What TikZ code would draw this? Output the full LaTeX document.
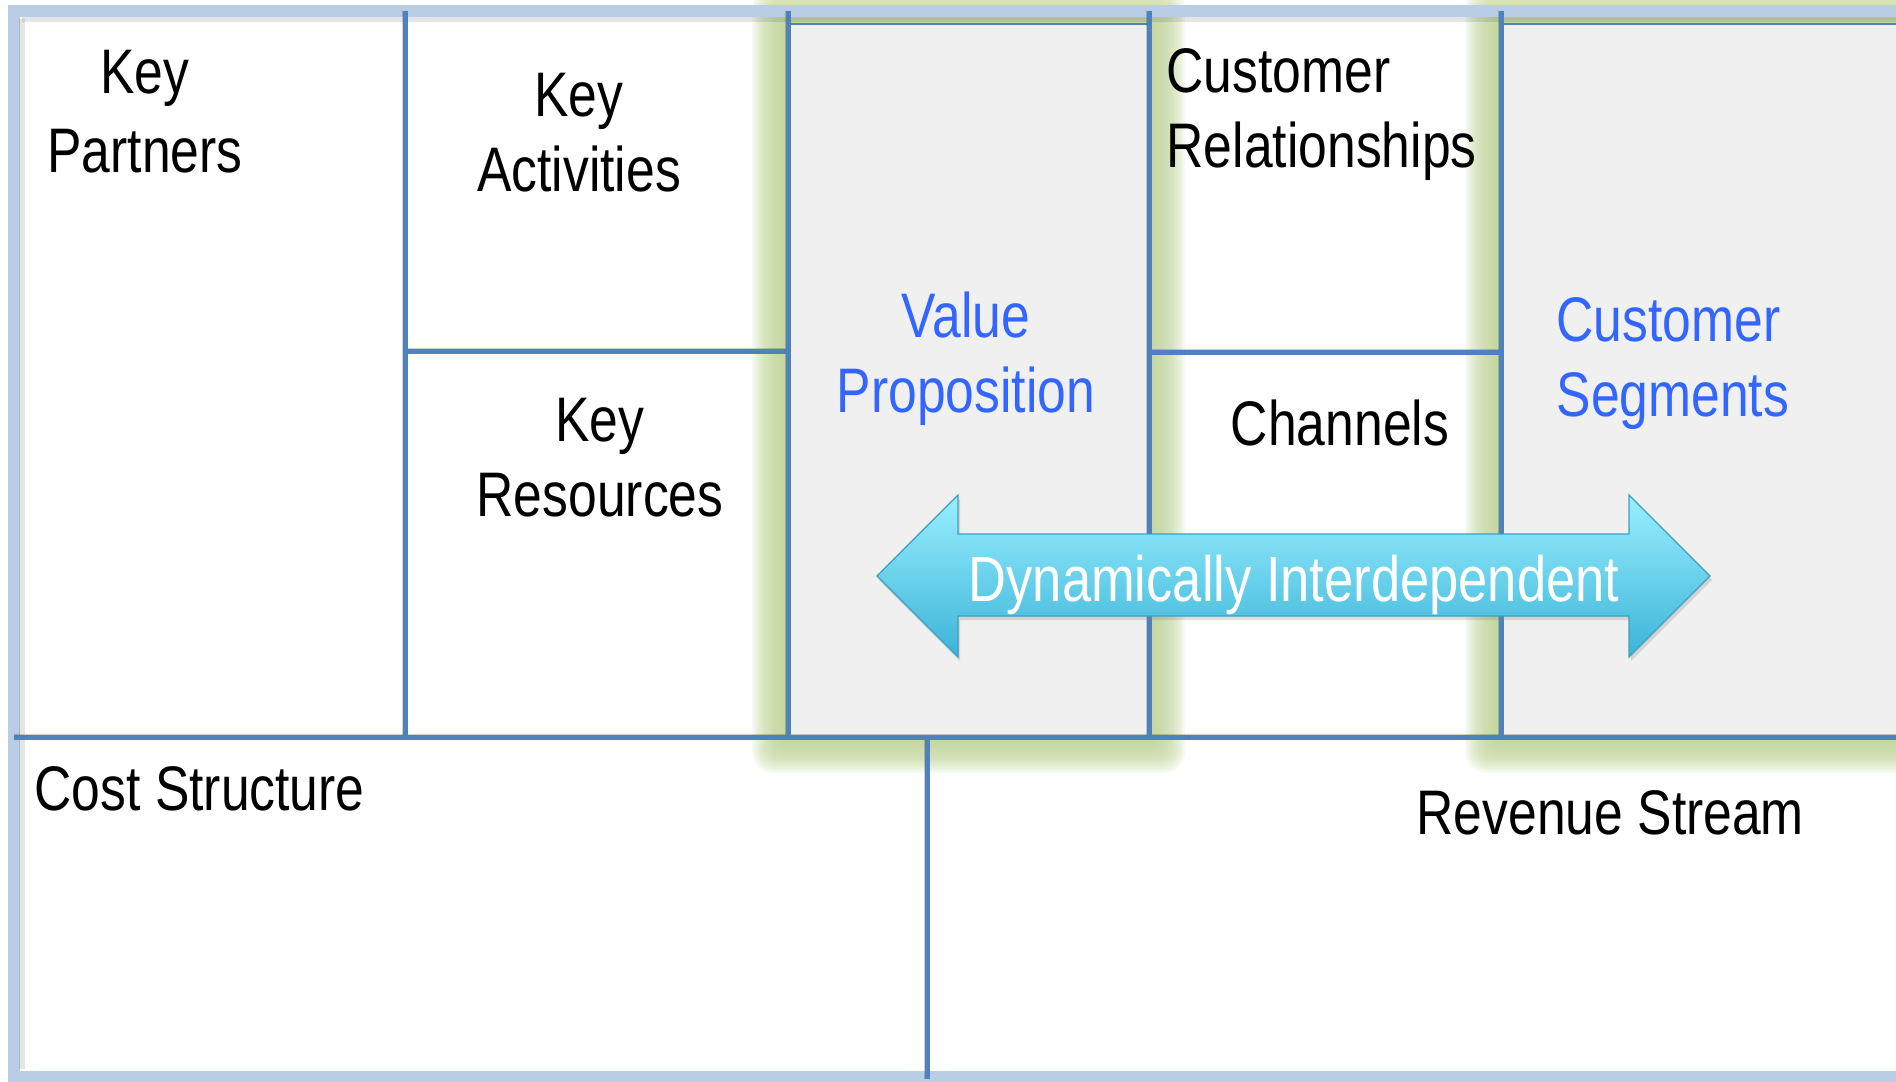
\documentclass[tikz,border=0pt]{standalone}
\usepackage{fontspec}
\setmainfont{Liberation Sans}[FakeStretch=0.82]
\usetikzlibrary{shadows}

\definecolor{gridblue}{HTML}{4F81BD}
\definecolor{frameblue}{HTML}{B9CDE5}
\definecolor{cellgrey}{HTML}{F0F0F0}
\definecolor{glowgreen}{HTML}{C3D69B}
\definecolor{labelblue}{HTML}{3366FF}
\definecolor{arrowtop}{HTML}{9AEFFF}
\definecolor{arrowbottom}{HTML}{3BB4D8}
\definecolor{arrowedge}{HTML}{3D9FC4}

\tikzset{
  gridline/.style={draw=gridblue, line width=0.05cm},
  gridshadow/.style={draw=black, draw opacity=0.18, line width=0.06cm},
  label/.style={inner sep=0pt, font=\fontsize{17.9}{21.3}\selectfont},
  centerlabel/.style={label, align=center, anchor=base},
  leftlabel/.style={label, align=left, anchor=base west},
  featured/.style={fill=cellgrey},
}

% soft green halo around a rectangle given by two corners
\newcommand{\halo}[4]{%
  \foreach \r in {36,34,...,2}{
    \fill[glowgreen, fill opacity=0.12, rounded corners=\r*0.006cm]
      (#1-\r,#2-\r) rectangle (#3+\r,#4+\r);
  }%
}

\begin{document}
\begin{tikzpicture}[x=0.01cm, y=-0.01cm]
  \useasboundingbox (0,0) rectangle (1896,1081);
  \clip (0,0) rectangle (1896,1081);
  \fill[white] (0,0) rectangle (1896,1081);

  % halos of the two featured blocks
  \halo{788}{24}{1149}{737}
  \halo{1501}{24}{1960}{737}

  % outer frame
  \draw[frameblue, line width=0.12cm] (14,10.5) rectangle (1940,1077);
  \draw[black, draw opacity=0.10, line width=0.05cm] (22,19) -- (1896,19);
  \draw[black, draw opacity=0.10, line width=0.05cm] (22,19) -- (22,1069);

  % featured blocks
  \draw[featured, draw=gridblue, line width=0.02cm] (788,24) rectangle (1149,737);
  \draw[featured, draw=gridblue, line width=0.02cm] (1501,24) rectangle (1960,737);

  % grid coordinates
  \coordinate (a1) at (405,11);   \coordinate (a2) at (405,737);
  \coordinate (b1) at (788,11);   \coordinate (b2) at (788,737);
  \coordinate (c1) at (1149,11);  \coordinate (c2) at (1149,737);
  \coordinate (d1) at (1501,11);  \coordinate (d2) at (1501,737);
  \coordinate (m1) at (14,737);   \coordinate (m2) at (1896,737);
  \coordinate (k1) at (405,351);  \coordinate (k2) at (788,351);
  \coordinate (r1) at (1149,352); \coordinate (r2) at (1501,352);
  \coordinate (s1) at (927,737);  \coordinate (s2) at (927,1079);

  % faint shadows of the grid lines
  \begin{scope}[shift={(2,4)}]
    \foreach \p/\q in {a1/a2,b1/b2,c1/c2,d1/d2,m1/m2,k1/k2,r1/r2,s1/s2}
      \draw[gridshadow] (\p) -- (\q);
  \end{scope}

  % grid lines
  \foreach \p/\q in {a1/a2,b1/b2,c1/c2,d1/d2,m1/m2,k1/k2,r1/r2,s1/s2}
    \draw[gridline] (\p) -- (\q);

  % double-headed arrow across the right half
  \path[drop shadow={shadow xshift=0.02cm, shadow yshift=-0.04cm, opacity=0.25},
        top color=arrowtop, bottom color=arrowbottom, draw=arrowedge, line width=0.012cm]
    (877,576) -- (958,495) -- (958,534) -- (1629,534) -- (1629,495)
    -- (1710,576) -- (1629,657) -- (1629,616) -- (958,616) -- (958,657) -- cycle;

  % block titles (two-line titles sit on the baseline of their last line)
  \node[centerlabel, font=\fontsize{17.9}{22.4}\selectfont] (partners) at (145,172) {Key\\Partners};
  \node[centerlabel] (activities) at (579,191) {Key\\Activities};
  \node[centerlabel] (resources) at (600,516)  {Key\\Resources};
  \node[centerlabel, text=labelblue] (value) at (966,412) {Value\\Proposition};
  \node[leftlabel] (relations) at (1166,167)   {Customer\\Relationships};
  \node[centerlabel] (channels) at (1340,445)  {Channels};
  \node[leftlabel, text=labelblue] (segments) at (1556,416) {Customer\\Segments};
  \node[leftlabel] (cost) at (34,810)          {Cost Structure};
  \node[leftlabel] (revenue) at (1416,834)     {Revenue Stream};
  \node[centerlabel, text=white, font=\fontsize{18.2}{21.3}\selectfont] (dynamic) at (1294,601)
    {Dynamically Interdependent};
\end{tikzpicture}
\end{document}
